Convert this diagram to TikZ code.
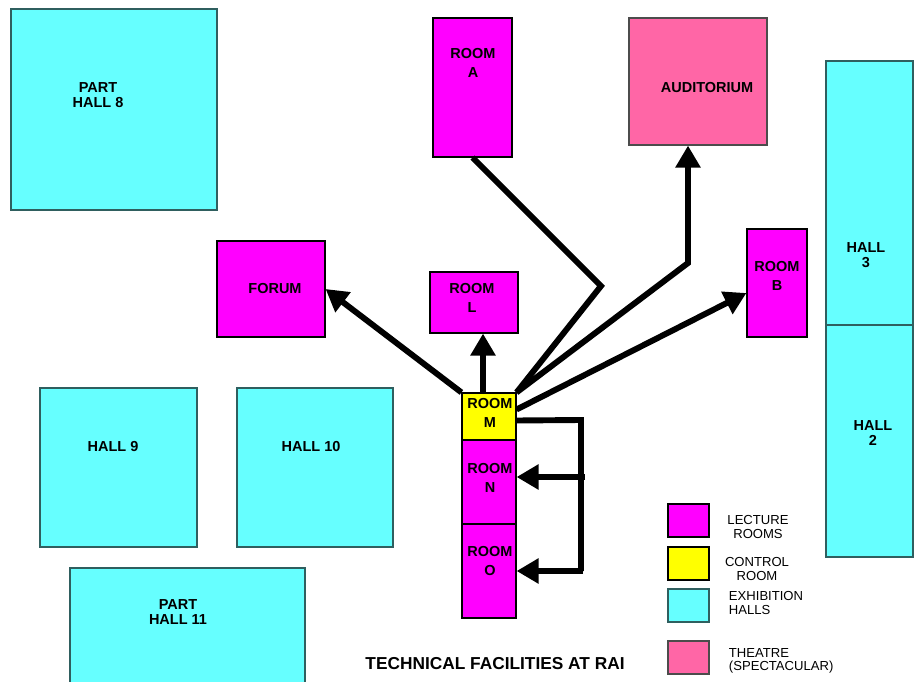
\documentclass[tikz,border=0pt]{standalone}
\usepackage{fontspec}
\setmainfont{Liberation Sans}
\usetikzlibrary{arrows.meta, calc}
\definecolor{lecturec}{HTML}{FF00FF}
\definecolor{controlc}{HTML}{FFFF00}
\definecolor{hallc}{HTML}{66FFFF}
\definecolor{hallline}{HTML}{2F5F5F}
\definecolor{theatrec}{HTML}{FF66A6}

\begin{document}
\begin{tikzpicture}[x=0.025cm, y=-0.025cm, >={Triangle[length=5.5mm, width=6mm]},
  every node/.style={font=\fontsize{10.3}{10.5}\selectfont\bfseries},
  sz/.style 2 args={minimum width=#1*0.025cm, minimum height=#2*0.025cm, inner sep=0pt},
  lecture/.style={draw=black, line width=0.8pt, fill=lecturec},
  control/.style={draw=black, line width=0.8pt, fill=controlc},
  hall/.style={draw=hallline, line width=0.8pt, fill=hallc},
  theatre/.style={draw=black!70, line width=0.8pt, fill=theatrec},
  link/.style={line width=4.2pt, line join=miter},
  roomtxt/.style={align=center, font=\fontsize{10.3}{13.5}\selectfont\bfseries},
  key/.style={font=\fontsize{9.3}{9.5}\selectfont, align=center}]
  \useasboundingbox (0,0) rectangle (919,682);

  % halls
  \node[hall, sz={206}{201}] (hall8) at (114,109.5) {};
  \node[hall, sz={87}{264}] (hall3) at (869.5,193) {};
  \node[hall, sz={87}{232}] (hall2) at (869.5,441) {};
  \node[hall, sz={157}{159}] (hall9) at (118.5,467.5) {};
  \node[hall, sz={156}{159}] (hall10) at (315,467.5) {};
  \node[hall, sz={235}{118}] (hall11) at (187.5,627) {};

  % rooms
  \node[lecture, sz={79}{139}] (rooma) at (472.5,87.5) {};
  \node[theatre, sz={138}{127}] (audi) at (698,81.5) {};
  \node[lecture, sz={108}{96}] (forum) at (271,289) {};
  \node[lecture, sz={88}{61}] (rooml) at (474,302.5) {};
  \node[lecture, sz={60}{108}] (roomb) at (777,283) {};
  \node[control, sz={54}{47}] (roomm) at (489,416.5) {};
  \node[lecture, sz={54}{84}] (roomn) at (489,482) {};
  \node[lecture, sz={54}{94}] (roomo) at (489,571) {};

  % links out of the control room
  \coordinate (lfoot) at ($(roomm.north)+(-6,0)$);
  \coordinate (abend) at (601,286);
  \coordinate (audbend) at (688,263);
  \coordinate (bus) at (581,420);
  \coordinate (nin) at ($(roomn.east)+(0,-5)$);
  \draw[link, ->] (roomm.north west) -- (forum.east);
  \draw[link, ->] (lfoot) -- (lfoot |- rooml.south);
  \draw[link] (rooma.south) -- (abend) -- (roomm.north east);
  \draw[link, ->] (roomm.north east) -- (audbend) -- (audbend |- audi.south);
  \draw[link, ->] ($(roomm.east)+(0,-7)$) -- ($(roomb.west)+(0,10)$);
  \draw[link] ($(roomm.east)+(0,4)$) -- (bus) -- (bus |- roomo.east);
  \draw[link, ->] ($(bus |- nin)+(4,0)$) -- (nin);
  \draw[link, ->] ($(bus |- roomo.east)+(2,0)$) -- (roomo.east);

  % labels
  \node[align=center] (hall8txt) at (98,95) {PART\\HALL 8};
  \node[align=center] (hall3txt) at (866,255) {HALL\\3};
  \node[align=center] (hall2txt) at (873,433) {HALL\\2};
  \node (hall9txt) at (113,447) {HALL 9};
  \node (hall10txt) at (311,447) {HALL 10};
  \node[align=center] (hall11txt) at (178,612) {PART\\HALL 11};
  \node[roomtxt] (roomatxt) at (473,63) {ROOM\\A};
  \node (auditxt) at (707,88) {AUDITORIUM};
  \node (forumtxt) at (275,289) {FORUM};
  \node[roomtxt] (roomltxt) at (472,298) {ROOM\\L};
  \node[roomtxt] (roombtxt) at (777,276) {ROOM\\B};
  \node[roomtxt] (roommtxt) at (490,413) {ROOM\\M};
  \node[roomtxt] (roomntxt) at (490,478) {ROOM\\N};
  \node[roomtxt] (roomotxt) at (490,561) {ROOM\\O};

  % key
  \node[lecture, sz={41}{33}] (keylec) at (688.5,520.5) {};
  \node[control, sz={41}{33}] (keyctl) at (688.5,563.5) {};
  \node[hall, sz={41}{33}] (keyhall) at (688.5,605.5) {};
  \node[theatre, sz={41}{33}] (keythea) at (688.5,657.5) {};
  \node[key] (keylectxt) at (758,527) {LECTURE\\ROOMS};
  \node[key] (keyctltxt) at (757,569) {CONTROL\\ROOM};
  \node[key, align=left, anchor=west] (keyhalltxt) at (724,603) {EXHIBITION\\HALLS};
  \node[key, align=left, anchor=west] (keytheatxt) at (724,661) {THEATRE\\(SPECTACULAR)};

  \node[font=\fontsize{12.3}{14}\selectfont\bfseries] (title) at (495,664) {TECHNICAL FACILITIES AT RAI};
\end{tikzpicture}
\end{document}
